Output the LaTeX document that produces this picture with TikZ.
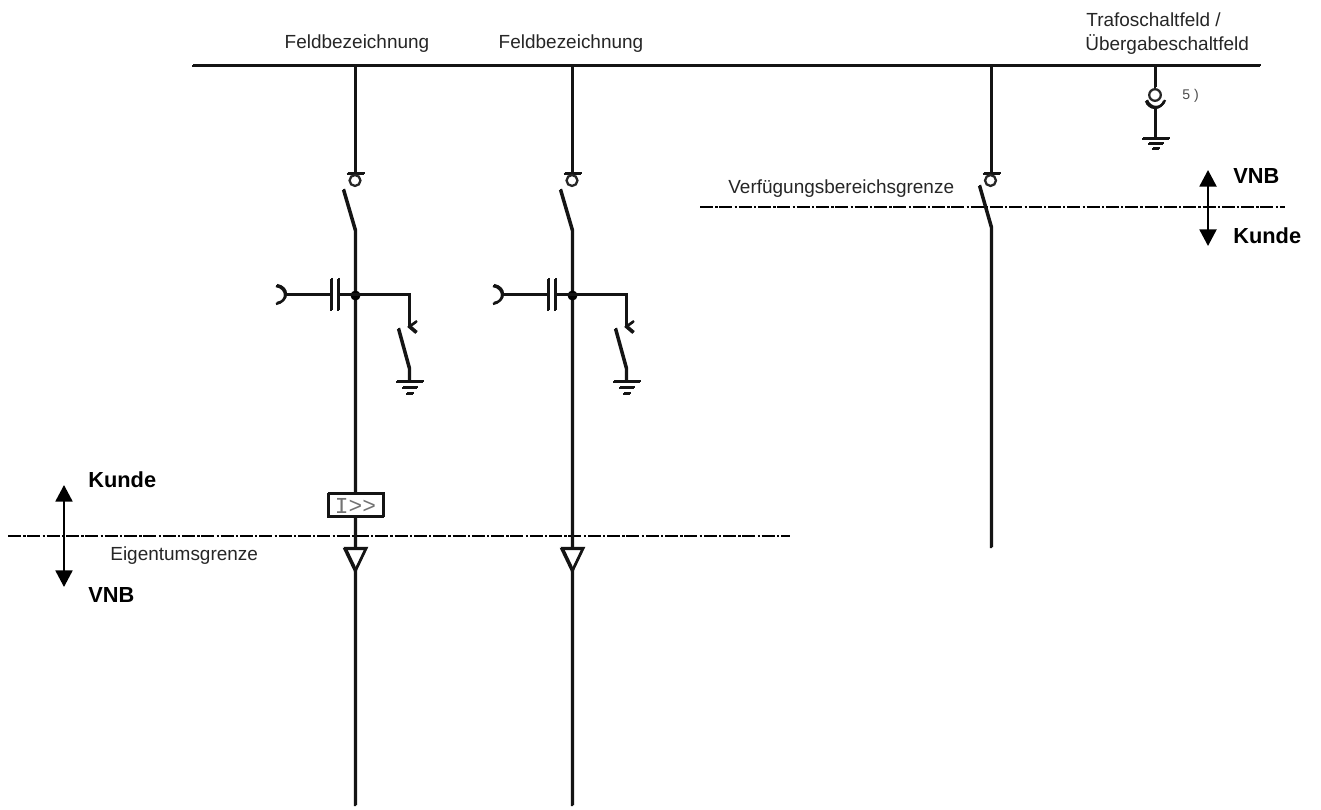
\documentclass[tikz,border=0pt]{standalone}
\usepackage{fontspec}
\setmainfont{Liberation Sans}
\setmonofont{Liberation Mono}
\usetikzlibrary{arrows.meta}
\tikzset{
  wire/.style={line width=1.3pt,black!92,preaction={draw,black!92,line width=1.3pt,transform canvas={shift={(0.02cm,0.02cm)}}}},
  limitline/.style={line width=1.4pt,black,dash pattern=on 7.4pt off 1.3pt on 1.3pt off 1pt},
  lbl/.style={inner sep=0pt,font=\fontsize{10.8pt}{12pt}\selectfont,text=black!85},
  blbl/.style={inner sep=0pt,anchor=west,font=\fontsize{12.4pt}{13pt}\selectfont\bfseries},
  rangearrow/.style={line width=1.3pt,{Triangle[width=9.6pt,length=9.4pt]}-{Triangle[width=9.6pt,length=9.4pt]}},
  ringnode/.style={line width=1.3pt,draw=black!85,fill=white,circle,minimum size=6.2pt,inner sep=0pt},
}
% feeder column: #1 = x position, #2 = prefix of names
\newcommand{\feeder}[2]{
  \coordinate (#2top) at (#1,66);
  \coordinate (#2t) at (#1,174);
  \coordinate (#2sw) at (#1,231);
  \coordinate (#2j) at (#1,295);
  \coordinate (#2end) at (#1,806);
  \coordinate (#2tri) at (#1,571);
  \draw[wire] (#2top) -- (#2t);
  \draw[wire] (#1-8.5,174) -- (#1+8.5,174);
  \node[ringnode] at (#1,180.5) {};
  \coordinate (#2bl) at (#1-12,190);
  \draw[wire] (#2bl) -- (#2sw) -- (#2j) -- (#2tri) -- (#2end);
  \fill (#1.5,295.5) circle[radius=0.1cm];
  % capacitive coupling
  \coordinate (#2c1) at (#1-17,295);
  \coordinate (#2c2) at (#1-24,295);
  \coordinate (#2so) at (#1-70,295);
  \draw[wire] (#2j) -- (#2c1);
  \draw[wire] (#1-17,279) -- (#1-17,311);
  \draw[wire] (#1-24,279) -- (#1-24,311);
  \draw[wire] (#2c2) -- (#2so);
  \draw[wire] (#1-79,286) .. controls (#1-73,287) and (#1-70,291) .. (#2so) .. controls (#1-70,299) and (#1-73,303) .. (#1-79,304);
  % earthing switch
  \coordinate (#2e1) at (#1+54,295);
  \coordinate (#2e2) at (#1+54,327);
  \coordinate (#2e3) at (#1+54,369);
  \coordinate (#2g) at (#1+54,382);
  \draw[wire] (#2j) -- (#2e1) -- (#2e2);
  \draw[wire] (#1+61,322) -- (#2e2) -- (#1+61,333);
  \draw[wire] (#1+43,329) -- (#2e3) -- (#2g);
  \draw[wire] (#1+41,382) -- (#1+68,382);
  \draw[wire] (#1+47,388) -- (#1+62,388);
  \draw[wire] (#1+51,394) -- (#1+58,394);
  % cable end
  \fill[white] (#1-10.5,549) -- (#1+10.5,549) -- (#2tri) -- cycle;
  \draw[wire,line join=miter] (#1-10.5,549) -- (#1+10.5,549) -- (#2tri) -- cycle;
}
\begin{document}
\begin{tikzpicture}[x=0.02cm,y=-0.02cm]
\useasboundingbox (0,0) rectangle (1321,810);
\fill[white] (0,0) rectangle (1321,810);

% limit lines (beneath the wires)
\coordinate (eL) at (8,536); \coordinate (eR) at (790,536);
\coordinate (vL) at (700,207); \coordinate (vR) at (1285,207);
\draw[limitline] (eL) -- (eR);
\draw[limitline] (vL) -- (vR);

% busbar
\coordinate (busL) at (192,66); \coordinate (busR) at (1260,66);
\draw[wire] (busL) -- (busR);

\feeder{355}{a}
\feeder{572}{b}

% protection relay
\node[fill=white,minimum width=1.1cm,minimum height=0.46cm,inner sep=0pt,
      text=black!55,font=\ttfamily\fontsize{13pt}{14pt}\selectfont] (relay) at (355.5,505.5) {I>>};
\draw[wire] (relay.north west) rectangle (relay.south east);

% third feeder
\coordinate (ctop) at (991,66);
\coordinate (ct) at (991,174);
\coordinate (cbl) at (979,186);
\coordinate (csw) at (991,228);
\coordinate (cend) at (991,548);
\draw[wire] (ctop) -- (ct);
\draw[wire] (982.5,174) -- (999.5,174);
\node[ringnode] (cring) at (990.5,180.5) {};
\draw[wire] (cbl) -- (csw) -- (cend);

% transformer field earthing
\coordinate (dtop) at (1155,66);
\coordinate (dcup) at (1155,108);
\coordinate (dg) at (1155,139);
\node[ringnode,minimum size=6.6pt] (dring) at (1155,95) {};
\draw[wire] (dtop) -- (dring);
\draw[wire] (1146,101) .. controls (1147,105) and (1151,108) .. (dcup) .. controls (1159,108) and (1163,105) .. (1164,101);
\draw[wire] (dcup) -- (dg);
\draw[wire] (1142,139) -- (1169,139);
\draw[wire] (1148,144) -- (1163,144);
\draw[wire] (1152,149) -- (1159,149);
\node[lbl,anchor=west,font=\fontsize{8pt}{9pt}\selectfont,text=black!70] (five) at (1182,96) {5 )};

% range arrows
\coordinate (rtop) at (1208,170); \coordinate (rbot) at (1208,246);
\draw[rangearrow] (rtop) -- (rbot);
\coordinate (ltop) at (64,485); \coordinate (lbot) at (64,587);
\draw[rangearrow] (ltop) -- (lbot);

% labels
\node[lbl] (f1) at (357,43.5) {Feldbezeichnung};
\node[lbl] (f2) at (571,43.5) {Feldbezeichnung};
\node[lbl,anchor=west] (t1) at (1086,20) {Trafoschaltfeld /};
\node[lbl,anchor=west] (t2) at (1085,45) {Übergabeschaltfeld};
\node[lbl,anchor=west] (vg) at (728,189) {Verfügungsbereichsgrenze};
\node[lbl,anchor=west] (eg) at (110,556) {Eigentumsgrenze};
\node[blbl] (k1) at (88,480) {Kunde};
\node[blbl] (v1) at (88,595) {VNB};
\node[blbl] (v2) at (1233,176) {VNB};
\node[blbl] (k2) at (1233,236) {Kunde};
\end{tikzpicture}
\end{document}
